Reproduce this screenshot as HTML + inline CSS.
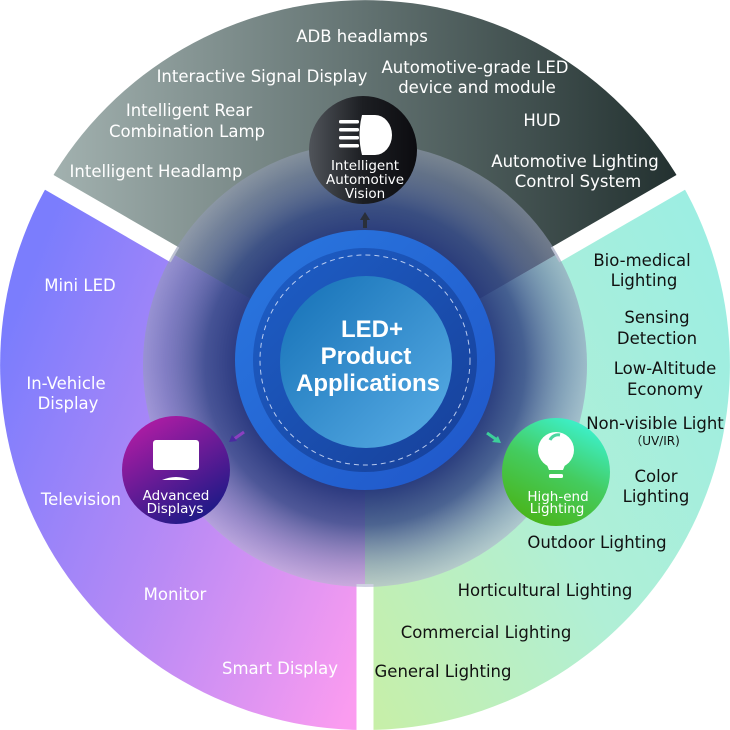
<!DOCTYPE html>
<html><head><meta charset="utf-8"><style>
html,body{margin:0;padding:0;background:#fff;}
svg{display:block;}
text{font-family:"DejaVu Sans","Liberation Sans",sans-serif;}
text.t{font-family:"Liberation Sans",sans-serif;}
</style></head><body>
<svg width="730" height="730" viewBox="0 0 730 730" xmlns="http://www.w3.org/2000/svg">
<defs>
<linearGradient id="gTop" x1="0" y1="0" x2="1" y2="0">
<stop offset="0" stop-color="#a3b2b0"/><stop offset="0.5" stop-color="#627271"/><stop offset="1" stop-color="#22302f"/>
</linearGradient>
<linearGradient id="gLeft" x1="0" y1="0.3" x2="1" y2="0.9">
<stop offset="0" stop-color="#7b7dfd"/><stop offset="0.5" stop-color="#b88af5"/><stop offset="1" stop-color="#fb9cf0"/>
</linearGradient>
<linearGradient id="gRight" x1="0" y1="1" x2="1" y2="0.2">
<stop offset="0" stop-color="#c8efa6"/><stop offset="0.5" stop-color="#b0efd6"/><stop offset="1" stop-color="#9deee2"/>
</linearGradient>
<linearGradient id="gUnder" x1="0" y1="0" x2="0" y2="1">
<stop offset="0" stop-color="#7d8c8c"/><stop offset="0.5" stop-color="#8a8ab8"/><stop offset="1" stop-color="#e4dcf0"/>
</linearGradient>
<radialGradient id="gGlow" cx="0.5" cy="0.5" r="0.5">
<stop offset="0.5" stop-color="#1d2d75" stop-opacity="1"/>
<stop offset="0.72" stop-color="#2f4583" stop-opacity="0.8"/>
<stop offset="0.9" stop-color="#6070a0" stop-opacity="0.45"/>
<stop offset="1" stop-color="#9aa2c0" stop-opacity="0.4"/>
</radialGradient>
<linearGradient id="gRing" x1="0" y1="0" x2="1" y2="1">
<stop offset="0" stop-color="#2a78e0"/><stop offset="1" stop-color="#1f55c8"/>
</linearGradient>
<linearGradient id="gRing2" x1="0" y1="0" x2="1" y2="1">
<stop offset="0" stop-color="#1e5fc8"/><stop offset="1" stop-color="#163f98"/>
</linearGradient>
<linearGradient id="gCore" x1="0" y1="0" x2="1" y2="1">
<stop offset="0" stop-color="#1470b6"/><stop offset="1" stop-color="#5aaee6"/>
</linearGradient>
<linearGradient id="gDark" x1="0" y1="0" x2="1" y2="0">
<stop offset="0" stop-color="#50545a"/><stop offset="0.5" stop-color="#1c1e22"/><stop offset="1" stop-color="#0c0c10"/>
</linearGradient>
<linearGradient id="gPur" x1="0" y1="0" x2="0.6" y2="1">
<stop offset="0" stop-color="#c21ca8"/><stop offset="1" stop-color="#221a88"/>
</linearGradient>
<linearGradient id="gGrn" x1="0.8" y1="0" x2="0.3" y2="1">
<stop offset="0" stop-color="#3cf5d8"/><stop offset="0.5" stop-color="#44cc60"/><stop offset="1" stop-color="#4ab418"/>
</linearGradient>
</defs>
<path d="M365,365 L49,182.5 A365,365 0 0 1 681,182.5 Z" fill="url(#gTop)"/>
<path d="M365,365 L365,730 A365,365 0 0 1 49,182.5 Z" fill="url(#gLeft)"/>
<path d="M365,365 L681,182.5 A365,365 0 0 1 365,730 Z" fill="url(#gRight)"/>
<g stroke="#fff" stroke-width="17">
<line x1="365" y1="584" x2="365" y2="740"/>
<line x1="175" y1="255" x2="40" y2="177"/>
<line x1="555" y1="255" x2="690" y2="177"/>
</g>
<circle cx="365" cy="365" r="222" fill="url(#gUnder)" opacity="0.35"/>
<circle cx="365" cy="365" r="222" fill="url(#gGlow)"/>
<circle cx="365" cy="360" r="130" fill="url(#gRing)"/>
<circle cx="365" cy="360" r="112" fill="url(#gRing2)"/>
<circle cx="365" cy="360" r="105" fill="none" stroke="#dfe8ff" stroke-width="1" stroke-dasharray="5,4" opacity="0.8"/>
<circle cx="366" cy="362" r="86" fill="url(#gCore)"/>
<g fill="#fff" font-weight="bold" font-size="24" text-anchor="middle">
<text class="t" x="372" y="337">LED+</text>
<text class="t" x="366" y="364">Product</text>
<text class="t" x="368" y="391">Applications</text>
</g>
<circle cx="363" cy="150" r="54" fill="url(#gDark)"/>
<g fill="#fff">
<rect x="339" y="120" width="20" height="3.5" rx="1.5"/>
<rect x="339" y="128" width="20" height="3.5" rx="1.5"/>
<rect x="339" y="136" width="20" height="3.5" rx="1.5"/>
<rect x="339" y="144" width="20" height="3.5" rx="1.5"/>
<path d="M362,115 L375,115 A17,20 0 0 1 375,155 L362,155 Q357,135 362,115 Z"/>
</g>
<g fill="#fff" font-size="13.5" text-anchor="middle">
<text x="365" y="170">Intelligent</text>
<text x="365" y="184">Automotive</text>
<text x="365" y="198">Vision</text>
</g>
<path d="M365,212 L360,220 L363,220 L363,228 L367,228 L367,220 L370,220 Z" fill="#2a2f3a"/>
<circle cx="176" cy="470" r="54" fill="url(#gPur)"/>
<rect x="153" y="440" width="46" height="30" rx="3" fill="#fff"/>
<path d="M162,480 Q176,474 190,480 Z" fill="#fff"/>
<g fill="#fff" font-size="13.5" text-anchor="middle">
<text x="176" y="500">Advanced</text>
<text x="175" y="513">Displays</text>
</g>
<path d="M244,432 L234,439" stroke="#8a40c0" stroke-width="3"/>
<path d="M229,442 L237,441 L232,435 Z" fill="#4a2aa0"/>
<circle cx="556" cy="472" r="54" fill="url(#gGrn)"/>
<circle cx="556" cy="450" r="18" fill="#fff"/>
<path d="M545,460 L567,460 L563,470 L549,470 Z" fill="#fff"/>
<rect x="549" y="474" width="14" height="4" rx="1.5" fill="#fff"/>
<path d="M550,440 A9,9 0 0 1 560,435" stroke="#4cd7a0" stroke-width="3" fill="none"/>
<g fill="#fff" font-size="13.5" text-anchor="middle">
<text x="558" y="501">High-end</text>
<text x="557" y="513">Lighting</text>
</g>
<path d="M487,433 L497,440" stroke="#3ccf9a" stroke-width="3"/>
<path d="M501,443 L492,442 L498,436 Z" fill="#3ccf9a"/>
<g fill="#fff" font-size="16.5" text-anchor="middle">
<text x="362" y="42">ADB headlamps</text>
<text x="262" y="82">Interactive Signal Display</text>
<text x="475" y="73">Automotive-grade LED</text>
<text x="477" y="93">device and module</text>
<text x="189" y="116">Intelligent Rear</text>
<text x="187" y="137">Combination Lamp</text>
<text x="542" y="126">HUD</text>
<text x="156" y="177">Intelligent Headlamp</text>
<text x="575" y="167">Automotive Lighting</text>
<text x="578" y="187">Control System</text>
</g>
<g fill="#fff" font-size="16.5" text-anchor="middle">
<text x="80" y="291">Mini LED</text>
<text x="66" y="389">In-Vehicle</text>
<text x="68" y="409">Display</text>
<text x="81" y="505">Television</text>
<text x="175" y="600">Monitor</text>
<text x="280" y="674">Smart Display</text>
</g>
<g fill="#111" font-size="16.5" text-anchor="middle">
<text x="642" y="266">Bio-medical</text>
<text x="644" y="286">Lighting</text>
<text x="657" y="323">Sensing</text>
<text x="657" y="344">Detection</text>
<text x="665" y="374">Low-Altitude</text>
<text x="665" y="395">Economy</text>
<text x="655" y="429">Non-visible Light</text>
<text x="655" y="445" font-size="12">（UV/IR)</text>
<text x="656" y="482">Color</text>
<text x="656" y="502">Lighting</text>
<text x="597" y="548">Outdoor Lighting</text>
<text x="545" y="596">Horticultural Lighting</text>
<text x="486" y="638">Commercial Lighting</text>
<text x="443" y="677">General Lighting</text>
</g>
</svg>
</body></html>
